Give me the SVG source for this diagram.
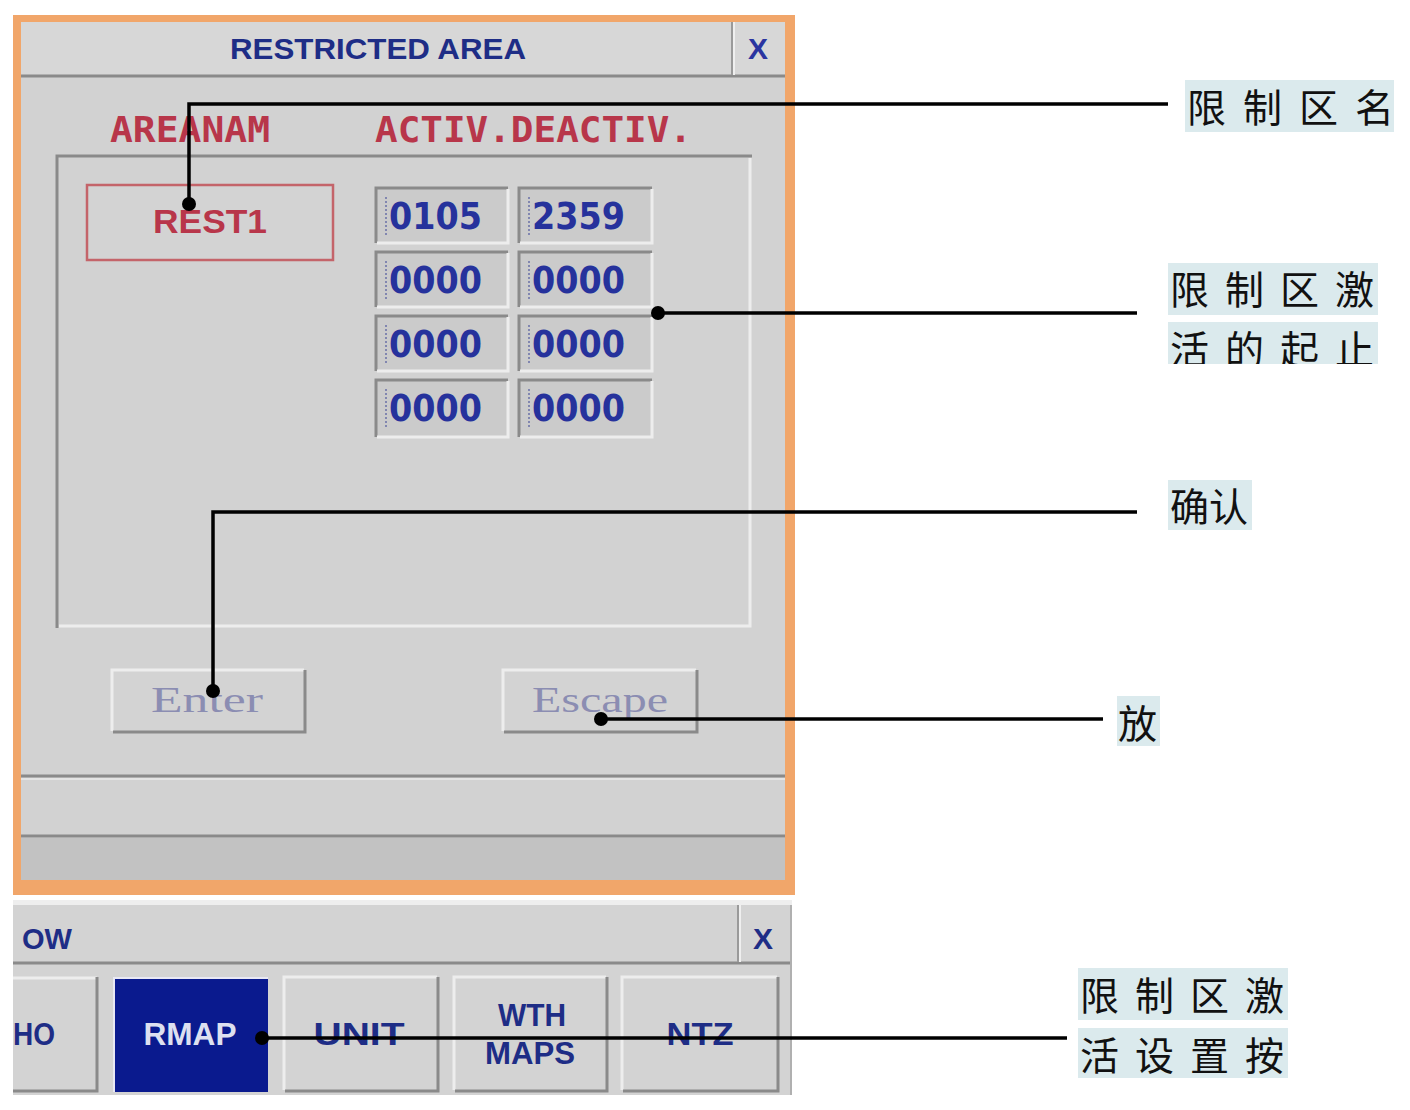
<svg xmlns="http://www.w3.org/2000/svg" width="1410" height="1110" viewBox="0 0 1410 1110">
<style>
.ui{font-family:"Liberation Sans","DejaVu Sans",sans-serif;font-weight:bold;}
.mono{font-family:"DejaVu Sans Mono","Liberation Mono",monospace;font-weight:bold;}
.red{fill:#b8364a;}
.navy{fill:#1e2d86;}
.dig{font-family:"DejaVu Sans","Liberation Sans",sans-serif;font-size:38px;font-weight:bold;fill:#26329c;}
.fld{fill:#cbcbcb;}
.dk{stroke:#8a8a8a;stroke-width:3;fill:none;}
.lt{stroke:#ededed;stroke-width:3;fill:none;}
.btn{fill:#d3d3d3;}
.serif{font-family:"Liberation Serif","DejaVu Serif",serif;font-size:36px;fill:#8b8db2;}
.cjk{font-family:"Noto Sans CJK SC","Noto Sans",sans-serif;font-size:39px;fill:#111;}
.lbl{fill:#dbeaed;}
.conn{stroke:#000;stroke-width:3.5;fill:none;}
.dot{fill:#000;}
</style>
<defs>
<clipPath id="clip2"><rect x="1160" y="320" width="230" height="44"/></clipPath>
</defs>
<rect x="0" y="0" width="1410" height="1110" fill="#ffffff"/>

<g id="restricted-area-window">
<rect x="13" y="15" width="782" height="880" fill="#f1a66a"/>
<rect x="21" y="22" width="764" height="858" fill="#d2d2d2"/>
<rect x="21" y="22" width="764" height="53" fill="#d7d7d7"/>
<line x1="21" y1="76" x2="785" y2="76" class="dk"/>
<line x1="732" y1="22" x2="732" y2="75" stroke="#9a9a9a" stroke-width="2"/>
<line x1="734" y1="22" x2="734" y2="75" stroke="#efefef" stroke-width="2"/>
<text x="378" y="59" class="ui navy" font-size="30" text-anchor="middle" textLength="296" lengthAdjust="spacingAndGlyphs">RESTRICTED AREA</text>
<text x="758" y="59" class="ui" font-size="30" fill="#2a34a0" text-anchor="middle">X</text>

<text x="110" y="142" class="mono red" font-size="36" textLength="160" lengthAdjust="spacingAndGlyphs">AREANAM</text>
<text x="375" y="142" class="mono red" font-size="36" textLength="317" lengthAdjust="spacingAndGlyphs">ACTIV.DEACTIV.</text>

<path d="M57 628 V156 H752" class="dk" stroke-width="4"/>
<path d="M750 158 V626 H59" class="lt"/>
</g>

<g id="areaname-field">
<rect x="87" y="185" width="246" height="75" fill="#d3d3d3" stroke="#c4646a" stroke-width="2.5"/>
<text x="210" y="233" class="ui red" font-size="34" font-weight="normal" text-anchor="middle" textLength="114" lengthAdjust="spacingAndGlyphs">REST1</text>
</g>

<g id="time-fields">
<rect x="375" y="187" width="133" height="56" class="fld"/><path d="M376 243 V188 H508" class="dk"/><path d="M508 189 V243 H377" class="lt"/>
<rect x="518" y="187" width="134" height="56" class="fld"/><path d="M519 243 V188 H652" class="dk"/><path d="M652 189 V243 H520" class="lt"/>
<rect x="375" y="251" width="133" height="56" class="fld"/><path d="M376 307 V252 H508" class="dk"/><path d="M508 253 V307 H377" class="lt"/>
<rect x="518" y="251" width="134" height="56" class="fld"/><path d="M519 307 V252 H652" class="dk"/><path d="M652 253 V307 H520" class="lt"/>
<rect x="375" y="315" width="133" height="56" class="fld"/><path d="M376 371 V316 H508" class="dk"/><path d="M508 317 V371 H377" class="lt"/>
<rect x="518" y="315" width="134" height="56" class="fld"/><path d="M519 371 V316 H652" class="dk"/><path d="M652 317 V371 H520" class="lt"/>
<rect x="375" y="379" width="133" height="58" class="fld"/><path d="M376 437 V380 H508" class="dk"/><path d="M508 381 V437 H377" class="lt"/>
<rect x="518" y="379" width="134" height="58" class="fld"/><path d="M519 437 V380 H652" class="dk"/><path d="M652 381 V437 H520" class="lt"/>
<g stroke="#6a70a8" stroke-width="1.5" stroke-dasharray="2 2">
<line x1="386" y1="197" x2="386" y2="236"/><line x1="529" y1="197" x2="529" y2="236"/>
<line x1="386" y1="261" x2="386" y2="300"/><line x1="529" y1="261" x2="529" y2="300"/>
<line x1="386" y1="325" x2="386" y2="364"/><line x1="529" y1="325" x2="529" y2="364"/>
<line x1="386" y1="389" x2="386" y2="428"/><line x1="529" y1="389" x2="529" y2="428"/>
</g>
<text x="389" y="229" class="dig" textLength="93" lengthAdjust="spacingAndGlyphs">0105</text>
<text x="532" y="229" class="dig" textLength="93" lengthAdjust="spacingAndGlyphs">2359</text>
<text x="389" y="293" class="dig" textLength="93" lengthAdjust="spacingAndGlyphs">0000</text>
<text x="532" y="293" class="dig" textLength="93" lengthAdjust="spacingAndGlyphs">0000</text>
<text x="389" y="357" class="dig" textLength="93" lengthAdjust="spacingAndGlyphs">0000</text>
<text x="532" y="357" class="dig" textLength="93" lengthAdjust="spacingAndGlyphs">0000</text>
<text x="389" y="421" class="dig" textLength="93" lengthAdjust="spacingAndGlyphs">0000</text>
<text x="532" y="421" class="dig" textLength="93" lengthAdjust="spacingAndGlyphs">0000</text>
</g>

<g id="enter-button">
<rect x="112" y="669" width="193" height="63" class="btn"/>
<path d="M112 731 V670 H304" class="lt"/><path d="M305 670 V732 H113" class="dk" stroke-width="4"/>
<text x="207" y="712" class="serif" text-anchor="middle" textLength="112" lengthAdjust="spacingAndGlyphs">Enter</text>
</g>

<g id="escape-button">
<rect x="503" y="669" width="194" height="63" class="btn"/>
<path d="M503 731 V670 H696" class="lt"/><path d="M697 670 V732 H504" class="dk" stroke-width="4"/>
<text x="600" y="712" class="serif" text-anchor="middle" textLength="136" lengthAdjust="spacingAndGlyphs">Escape</text>
</g>

<g id="status-area">
<line x1="21" y1="776" x2="785" y2="776" class="dk"/>
<line x1="21" y1="779" x2="785" y2="779" stroke="#e4e4e4" stroke-width="2"/>
<line x1="21" y1="836" x2="785" y2="836" class="dk"/>
<rect x="21" y="838" width="764" height="42" fill="#c2c2c2"/>
</g>

<g id="bottom-window">
<rect x="13" y="900" width="779" height="195" fill="#d3d3d3"/>
<rect x="13" y="900" width="779" height="5" fill="#eeeeee"/>
<line x1="13" y1="963" x2="792" y2="963" class="dk"/>
<line x1="738" y1="905" x2="738" y2="962" stroke="#9a9a9a" stroke-width="2"/>
<line x1="740" y1="905" x2="740" y2="962" stroke="#efefef" stroke-width="2"/>
<line x1="791" y1="905" x2="791" y2="1095" stroke="#b0b0b0" stroke-width="2"/>
<text x="22" y="949" class="ui navy" font-size="30" textLength="50" lengthAdjust="spacingAndGlyphs">OW</text>
<text x="763" y="949" class="ui navy" font-size="30" text-anchor="middle">X</text>
</g>

<g id="btn-ho">
<rect x="13" y="976" width="85" height="116" class="btn"/>
<path d="M13 978 H97" class="lt"/><path d="M97 977 V1091 H13" class="dk" stroke-width="4"/>
<text x="13" y="1045" class="ui navy" font-size="32" textLength="42" lengthAdjust="spacingAndGlyphs">HO</text>
</g>
<g id="btn-rmap">
<rect x="114" y="978" width="154" height="114" fill="#0a1a8e"/>
<path d="M114 1092 V978 H268" stroke="#e8e8f4" stroke-width="2" fill="none"/>
<text x="190" y="1045" class="ui" font-size="32" fill="#dde0f0" text-anchor="middle" textLength="93" lengthAdjust="spacingAndGlyphs">RMAP</text>
</g>
<g id="btn-unit">
<rect x="284" y="976" width="154" height="116" class="btn"/>
<path d="M284 1090 V977 H437" class="lt"/><path d="M438 977 V1091 H285" class="dk" stroke-width="4"/>
<text x="359" y="1045" class="ui navy" font-size="32" text-anchor="middle" textLength="91" lengthAdjust="spacingAndGlyphs">UNIT</text>
</g>
<g id="btn-wth-maps">
<rect x="454" y="976" width="153" height="116" class="btn"/>
<path d="M454 1090 V977 H606" class="lt"/><path d="M607 977 V1091 H455" class="dk" stroke-width="4"/>
<text x="532" y="1026" class="ui navy" font-size="32" text-anchor="middle" textLength="68" lengthAdjust="spacingAndGlyphs">WTH</text>
<text x="530" y="1064" class="ui navy" font-size="32" text-anchor="middle" textLength="90" lengthAdjust="spacingAndGlyphs">MAPS</text>
</g>
<g id="btn-ntz">
<rect x="622" y="976" width="156" height="116" class="btn"/>
<path d="M622 1090 V977 H777" class="lt"/><path d="M778 977 V1091 H623" class="dk" stroke-width="4"/>
<text x="700" y="1045" class="ui navy" font-size="32" text-anchor="middle" textLength="67" lengthAdjust="spacingAndGlyphs">NTZ</text>
</g>

<g id="label-area-name">
<rect x="1185" y="80" width="209" height="52" class="lbl"/>
<text x="1187" y="122" class="cjk" letter-spacing="17">限制区名</text>
</g>
<g id="label-activation-times">
<rect x="1168" y="263" width="210" height="52" class="lbl"/>
<text x="1170" y="304" class="cjk" letter-spacing="16">限制区激</text>
<rect x="1168" y="322" width="210" height="42" class="lbl"/>
<text x="1170" y="364" class="cjk" letter-spacing="16" clip-path="url(#clip2)">活的起止</text>
</g>
<g id="label-confirm">
<rect x="1168" y="480" width="84" height="50" class="lbl"/>
<text x="1170" y="521" class="cjk">确认</text>
</g>
<g id="label-release">
<rect x="1117" y="696" width="43" height="50" class="lbl"/>
<text x="1118" y="738" class="cjk">放</text>
</g>
<g id="label-activation-button">
<rect x="1078" y="968" width="210" height="52" class="lbl"/>
<text x="1080" y="1010" class="cjk" letter-spacing="16">限制区激</text>
<rect x="1078" y="1028" width="210" height="50" class="lbl"/>
<text x="1080" y="1070" class="cjk" letter-spacing="16">活设置按</text>
</g>

<g id="connectors">
<path d="M189 204 V104 H1168" class="conn"/>
<circle cx="189" cy="204" r="7" class="dot"/>
<path d="M658 313 H1137" class="conn"/>
<circle cx="658" cy="313" r="7" class="dot"/>
<path d="M213 691 V512 H1137" class="conn"/>
<circle cx="213" cy="691" r="7" class="dot"/>
<path d="M601 719 H1103" class="conn"/>
<circle cx="601" cy="719" r="7" class="dot"/>
<path d="M262 1038 H1067" class="conn"/>
<circle cx="262" cy="1038" r="7" class="dot"/>
</g>
</svg>
